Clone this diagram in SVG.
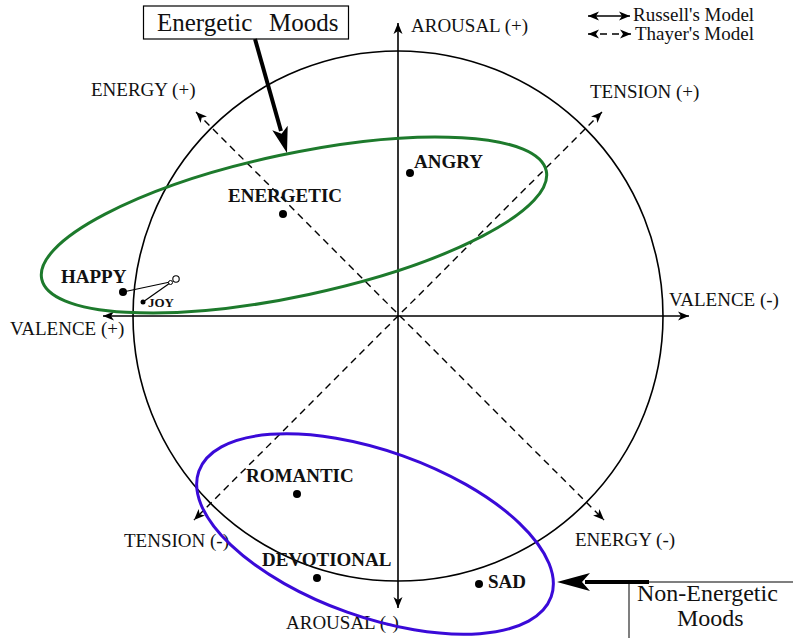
<svg xmlns="http://www.w3.org/2000/svg" width="793" height="638" viewBox="0 0 793 638">
<style>
text{font-family:"Liberation Serif","Times New Roman",serif;fill:#111}
.ax{font-size:19px}
.nd{font-size:19px;font-weight:bold}
.axis{stroke:#000;stroke-width:1.6;fill:none}
.dash{stroke:#000;stroke-width:1.4;fill:none;stroke-dasharray:7 5}
.dot{fill:#000}
</style>
<defs>
<marker id="ah" viewBox="-12 -6 14 12" refX="0" refY="0" markerWidth="14" markerHeight="12" orient="auto-start-reverse" markerUnits="userSpaceOnUse">
<path d="M0,0 L-11,-4.5 L-8,0 L-11,4.5 Z" fill="#000"/>
</marker>
</defs>
<rect width="793" height="638" fill="#fff"/>

<g id="circle">
<circle cx="398" cy="316" r="265" fill="none" stroke="#000" stroke-width="1.6"/>
</g>

<g id="connectors">
<line class="axis" x1="398" y1="23" x2="398" y2="608" marker-start="url(#ah)" marker-end="url(#ah)"/>
<line class="axis" x1="103" y1="316" x2="689" y2="316" marker-start="url(#ah)" marker-end="url(#ah)"/>
<line class="dash" x1="196" y1="112" x2="604" y2="520" marker-start="url(#ah)" marker-end="url(#ah)"/>
<line class="dash" x1="602" y1="112" x2="194" y2="520" marker-start="url(#ah)" marker-end="url(#ah)"/>
<line class="axis" x1="588" y1="16" x2="630" y2="16" stroke-width="1.4" marker-start="url(#ah)" marker-end="url(#ah)"/>
<line class="dash" x1="588" y1="34" x2="631" y2="34" stroke-dasharray="5 4" marker-start="url(#ah)" marker-end="url(#ah)"/>
</g>

<g id="axis-labels" class="ax">
<text class="ax" x="411" y="32">AROUSAL (+)</text>
<text class="ax" x="286" y="629">AROUSAL (-)</text>
<text class="ax" x="91" y="96">ENERGY (+)</text>
<text class="ax" x="575" y="546">ENERGY (-)</text>
<text class="ax" x="590" y="98">TENSION (+)</text>
<text class="ax" x="124" y="547">TENSION (-)</text>
<text class="ax" x="669" y="306">VALENCE (-)</text>
<text class="ax" x="10" y="335">VALENCE (+)</text>
</g>

<g id="legend">
<text class="ax" x="633" y="21">Russell's Model</text>
<text class="ax" x="635" y="40">Thayer's Model</text>
</g>

<g id="energetic-ellipse">
<ellipse cx="294" cy="225" rx="258" ry="71" transform="rotate(-12.1 294 225)" fill="none" stroke="#1d7a2c" stroke-width="3"/>
</g>
<g id="non-energetic-ellipse">
<ellipse cx="375" cy="534" rx="187" ry="83" transform="rotate(19.6 375 534)" fill="none" stroke="#3a0ad8" stroke-width="3"/>
</g>

<g id="node-angry"><circle class="dot" cx="410" cy="173" r="4"/><text class="nd" x="414" y="168">ANGRY</text></g>
<g id="node-energetic"><circle class="dot" cx="283" cy="214" r="4"/><text class="nd" x="228" y="202">ENERGETIC</text></g>
<g id="node-happy"><circle class="dot" cx="123" cy="292" r="4"/><text class="nd" x="61" y="283">HAPPY</text>
<line x1="123" y1="292" x2="170" y2="282" stroke="#000" stroke-width="1.2"/></g>
<g id="node-joy"><circle class="dot" cx="143" cy="302" r="2.5"/><text x="148" y="307" style="font-size:13px;font-weight:bold">JOY</text>
<line x1="143" y1="302" x2="170" y2="283" stroke="#000" stroke-width="1.2"/>
<circle cx="170.5" cy="282.5" r="2" fill="#fff" stroke="#000" stroke-width="1"/>
<circle cx="176" cy="279" r="3.2" fill="#fff" stroke="#000" stroke-width="1.1"/></g>
<g id="node-romantic"><circle class="dot" cx="297" cy="494" r="4"/><text class="nd" x="246" y="482">ROMANTIC</text></g>
<g id="node-devotional"><circle class="dot" cx="317" cy="578" r="4"/><text class="nd" x="262" y="566">DEVOTIONAL</text></g>
<g id="node-sad"><circle class="dot" cx="479" cy="584" r="4"/><text class="nd" x="488" y="588">SAD</text></g>

<g id="callout-energetic">
<rect x="143.5" y="6" width="205" height="33" fill="#fff" stroke="#000" stroke-width="1.2"/>
<text x="157" y="31" style="font-size:25px">Energetic</text>
<text x="269" y="31" style="font-size:25px">Moods</text>
<line x1="255" y1="39" x2="281" y2="131" stroke="#000" stroke-width="4"/>
<polygon points="287,153 272.3,130.2 281.6,133.7 287.7,125.8" fill="#000"/>
</g>

<g id="callout-non-energetic">
<line x1="648" y1="582" x2="793" y2="582" stroke="#555" stroke-width="1.5"/>
<line x1="629" y1="582" x2="629" y2="638" stroke="#555" stroke-width="1.5"/>
<line x1="585" y1="582" x2="649" y2="582" stroke="#000" stroke-width="4"/>
<polygon points="557,582 590,573 582,582 590,591" fill="#000"/>
<text x="637" y="601" style="font-size:24px">Non-Energetic</text>
<text x="677" y="626" style="font-size:24px">Moods</text>
</g>
</svg>
